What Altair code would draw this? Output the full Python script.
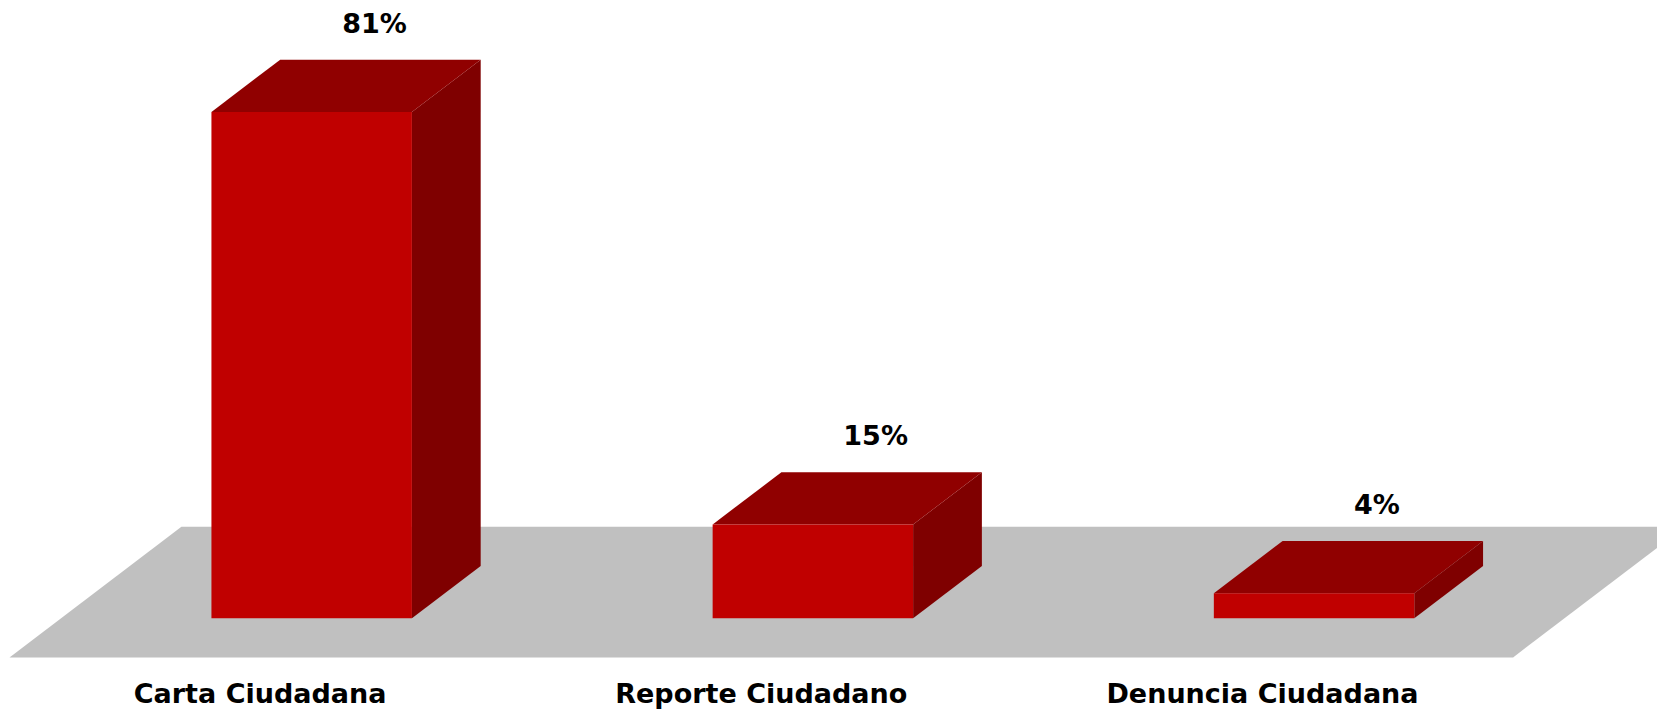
import altair as alt
import pandas as pd

# Data
categories = ["Carta Ciudadana", "Reporte Ciudadano", "Denuncia Ciudadana"]
values = [81, 15, 4]
labels = ["81%", "15%", "4%"]

# 3D projection style constants (in data units)
DX = 0.343   # horizontal shift of the full floor depth (in category bands)
DY = 20.9    # vertical shift of the full floor depth (in % units)
BAR_L, BAR_R = 0.3, 0.7      # bar position inside band
D_FRONT, D_BACK = 0.3, 0.7   # bar depth range inside floor

FRONT = "#C00000"
TOP = "#900000"
SIDE = "#7F0000"
FLOOR = "#C0C0C0"
FONT = "DejaVu Sans"

n = len(categories)
rows_front, rows_top, rows_side, rows_lab = [], [], [], []
for i, (c, v, lab) in enumerate(zip(categories, values, labels)):
    fx0 = i + BAR_L + D_FRONT * DX
    fx1 = i + BAR_R + D_FRONT * DX
    bx0 = i + BAR_L + D_BACK * DX
    bx1 = i + BAR_R + D_BACK * DX
    fy = D_FRONT * DY
    by = D_BACK * DY
    rows_front.append(dict(cat=c, x=fx0, x2=fx1, y=fy, y2=fy + v))
    rows_top.append(dict(cat=c, y=fy + v, x=fx0, x2=fx1))
    rows_top.append(dict(cat=c, y=by + v, x=bx0, x2=bx1))
    rows_side.append(dict(cat=c, x=fx1, y=fy, y2=fy + v))
    rows_side.append(dict(cat=c, x=bx1, y=by, y2=by + v))
    rows_lab.append(dict(cat=c, lab=lab, x=(bx0 + bx1) / 2, y=by + v, cx=i + 0.5))

front = pd.DataFrame(rows_front)
top = pd.DataFrame(rows_top)
side = pd.DataFrame(rows_side)
lab = pd.DataFrame(rows_lab)
floor = pd.DataFrame([dict(y=0, x=0, x2=n), dict(y=DY, x=DX, x2=n + DX)])

W, H = 1649, 702
PX_BAND = 501.2
PX_PCT = 6.25
xmin = -0.003
xmax = xmin + W / PX_BAND
ymax = 103.9
ymin = ymax - H / PX_PCT

xs = alt.Scale(domain=[xmin, xmax], nice=False, zero=False)
ys = alt.Scale(domain=[ymin, ymax], nice=False, zero=False)
X = lambda f: alt.X(f, type="quantitative", scale=xs, axis=None)
Y = lambda f: alt.Y(f, type="quantitative", scale=ys, axis=None)

floor_l = alt.Chart(floor).mark_area(orient="horizontal", color=FLOOR, clip=False).encode(
    y=Y("y"), x=X("x"), x2="x2")

side_l = alt.Chart(side).mark_area(orient="vertical", color=SIDE, clip=False).encode(
    x=X("x"), y=Y("y"), y2="y2", detail="cat:N")

top_l = alt.Chart(top).mark_area(orient="horizontal", color=TOP, clip=False).encode(
    y=Y("y"), x=X("x"), x2="x2", detail="cat:N")

front_l = alt.Chart(front).mark_rect(color=FRONT, clip=False).encode(
    x=X("x"), x2="x2", y=Y("y"), y2="y2")

val_l = alt.Chart(lab).mark_text(font=FONT, fontSize=27, fontWeight="bold", color="#000000",
                                 baseline="middle", align="center", dx=-6, dy=-35).encode(
    x=X("x"), y=Y("y"), text="lab:N")

cat_l = alt.Chart(lab).mark_text(font=FONT, fontSize=27, fontWeight="bold", color="#000000",
                                 baseline="middle", align="center", dy=38).encode(
    x=X("cx"), y=alt.Y(datum=0, type="quantitative", scale=ys, axis=None), text="cat:N")

chart = alt.layer(floor_l, side_l, top_l, front_l, val_l, cat_l).properties(
    width=W, height=H, padding=0, autosize=alt.AutoSizeParams(type="none"),
    background="white"
).configure_view(stroke=None)

chart.save("out.html", embed_options={"renderer": "svg", "actions": False})
